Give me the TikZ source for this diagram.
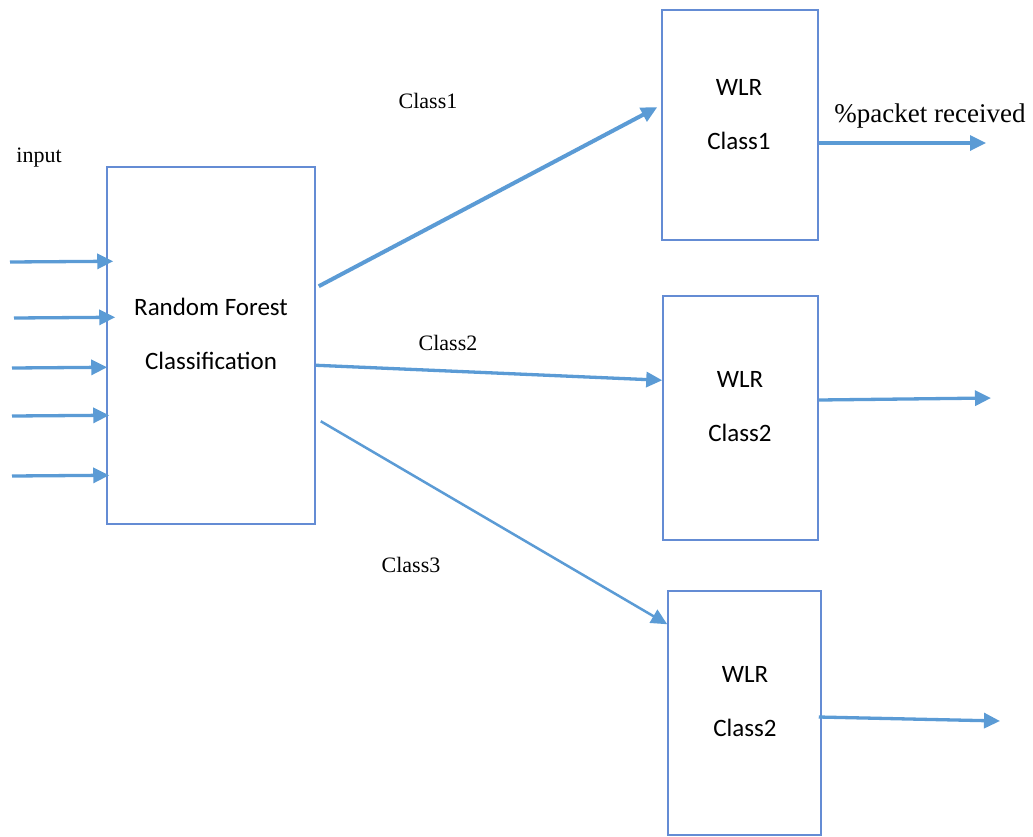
\documentclass[tikz,border=0pt]{standalone}
\usepackage{fontspec}
\setmainfont{Liberation Serif}
\newfontfamily\boxfont{Carlito}
\usetikzlibrary{arrows.meta,calc}
\definecolor{flowblue}{RGB}{91,155,213}
\definecolor{edgeblue}{RGB}{100,140,212}
\begin{document}
\begin{tikzpicture}[x=1pt,y=-1pt,
  block/.style={draw=edgeblue,line width=1.5pt,fill=white,inner sep=0pt},
  blocktext/.style={font=\boxfont\fontsize{25}{54}\selectfont,align=center,text=black},
  flow/.style={draw=flowblue,line width=3.3pt,-{Triangle[length=16pt,width=15pt]}},
  tag/.style={font=\fontsize{22}{25}\selectfont,text=black}]
\useasboundingbox (0,0) rectangle (1033,836);

% classifier and the three regression blocks
\node[block,minimum width=208pt,minimum height=357pt] (rf) at (211,345.5) {};
\node[blocktext] (rftext) at (211,334) {Random Forest\\Classification};
\node[block,minimum width=156pt,minimum height=230pt] (w1) at (740,125) {};
\node[blocktext] (w1text) at (739,115) {WLR\\Class1};
\node[block,minimum width=155pt,minimum height=244pt] (w2) at (740.5,418) {};
\node[blocktext] (w2text) at (740,407) {WLR\\Class2};
\node[block,minimum width=153pt,minimum height=244pt] (w3) at (744.5,713) {};
\node[blocktext] (w3text) at (745,702) {WLR\\Class2};

% labels
\node[tag] (inlabel) at (39,158) {input};
\node[tag] (c1label) at (428,101) {Class1};
\node[tag] (c2label) at (448,343) {Class2};
\node[tag] (c3label) at (411,565) {Class3};
\node[font=\fontsize{27}{30}\selectfont] (outlabel) at (930,116) {\%packet received};

% inputs
\coordinate (i1) at (10,262);
\coordinate (i2) at (14,318);
\coordinate (i3) at (12,368);
\coordinate (i4) at (12,416);
\coordinate (i5) at (12,476);
\draw[flow] (i1) -- ($(rf.north west)+(7,95)$);
\draw[flow] (i2) -- ($(rf.north west)+(9,151)$);
\draw[flow] (i3) -- ($(rf.north west)+(1,201)$);
\draw[flow] (i4) -- ($(rf.north west)+(3,249)$);
\draw[flow] (i5) -- ($(rf.north west)+(3,309)$);

% classes
\draw[flow,line width=4pt] ($(rf.north east)+(3,120)$) -- ($(w1.north west)+(-4,98)$);
\draw[flow] ($(rf.north east)+(0,199)$) -- ($(w2.north west)+(0,85)$);
\draw[flow,line width=2.5pt] ($(rf.north east)+(5,255)$) -- ($(w3.north west)+(0,34)$);

% outputs
\coordinate (o1) at (986,143);
\coordinate (o2) at (991,398);
\coordinate (o3) at (1000,721);
\draw[flow] ($(w1.east)+(0,18)$) -- (o1);
\draw[flow] ($(w2.east)+(0,-18)$) -- (o2);
\draw[flow] ($(w3.east)+(-3,4)$) -- (o3);
\end{tikzpicture}
\end{document}
